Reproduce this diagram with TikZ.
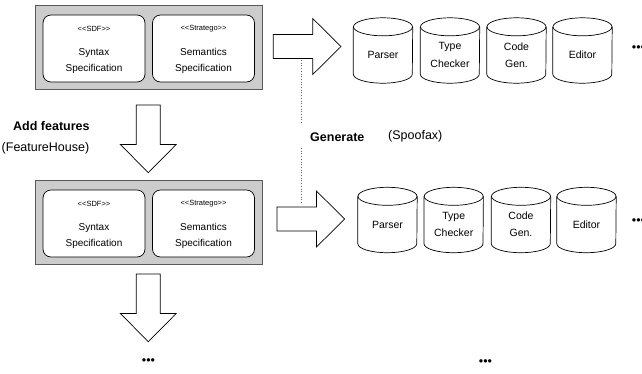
\documentclass[tikz,border=0pt]{standalone}
\usepackage{fontspec}
\setmainfont{Liberation Sans}
\usetikzlibrary{calc}
\tikzset{blockarrow/.pic={\draw[bigarrow] (0,-12) -- (39.4,-12) -- (39.4,-28) -- (67.7,0) -- (39.4,28) -- (39.4,12) -- (0,12) -- cycle;}}
\begin{document}
\begin{tikzpicture}[x=1pt,y=1pt,
 graybox/.style={draw=black!65, line width=1pt, fill=black!20, minimum width=227pt, minimum height=84pt, inner sep=0},
 specbox/.style={draw=black, line width=0.7pt, fill=white, rounded corners=8pt, minimum width=102pt, minimum height=67pt, inner sep=0},
 stereo/.style={font=\fontsize{7.5}{9}\selectfont, inner sep=0},
 spectext/.style={font=\fontsize{10}{16}\selectfont, align=center, inner sep=0},
 cyl/.style={minimum width=59pt, minimum height=56pt, inner sep=0, align=center, font=\fontsize{10.5}{17.3}\selectfont},
 cylline/.style={draw=black, line width=0.7pt},
 bigarrow/.style={draw=black, line width=0.7pt, fill=white},
 lbl/.style={font=\fontsize{12.5}{15}\selectfont, inner sep=0, anchor=west},
 moredots/.style={font=\fontsize{12.5}{15}\selectfont, inner sep=0},
 sepline/.style={draw=black!60, dotted, line width=0.7pt}]
\useasboundingbox (0,0) rectangle (642,-373);

% dotted separator
\coordinate (d1) at (301.3,-60);
\coordinate (d2) at (301.3,-123);
\coordinate (d3) at (301.3,-148);
\coordinate (d4) at (301.3,-203);
\draw[sepline] (d1) -- (d2);
\draw[sepline] (d3) -- (d4);

% top specification block
\node[graybox] (g1) at (148.5,-47) {};
\node[specbox] (s1) at (94,-48.5) {};
\node[specbox] (m1) at (203.5,-48.5) {};
\node[stereo] (s1t) at (94,-29) {<{}<SDF>{}>};
\node[stereo] (m1t) at (203.5,-29) {<{}<Stratego>{}>};
\node[spectext] (s1x) at (94,-61) {Syntax\\Specification};
\node[spectext] (m1x) at (203.5,-61) {Semantics\\Specification};

% bottom specification block
\node[graybox] (g2) at (148.5,-222) {};
\node[specbox] (s2) at (94,-223.5) {};
\node[specbox] (m2) at (203.5,-223.5) {};
\node[stereo] (s2t) at (94,-204) {<{}<SDF>{}>};
\node[stereo] (m2t) at (203.5,-204) {<{}<Stratego>{}>};
\node[spectext] (s2x) at (94,-236) {Syntax\\Specification};
\node[spectext] (m2x) at (203.5,-236) {Semantics\\Specification};

% block arrows
\pic at (273.3,-46.5) {blockarrow};
\pic at (277,-219) {blockarrow};
\pic[rotate=-90] at (148.3,-105) {blockarrow};
\pic[rotate=-90] at (148.3,-274) {blockarrow};

% generated tools, top row
\node[cyl] (a1) at (383,-55) {Parser};
\node[cyl] (a2) at (450,-55) {Type\\Checker};
\node[cyl] (a3) at (516.5,-55) {Code\\Gen.};
\node[cyl] (a4) at (582.5,-55) {Editor};
% bottom row
\node[cyl] (b1) at (387.5,-224.5) {Parser};
\node[cyl] (b2) at (453.7,-224.5) {Type\\Checker};
\node[cyl] (b3) at (521,-224.5) {Code\\Gen.};
\node[cyl] (b4) at (586.5,-224.5) {Editor};
\foreach \n in {a1,a2,a3,a4,b1,b2,b3,b4}{
  \draw[cylline] (\n.north west) -- ($(\n.south west)+(0,9)$) arc[start angle=180,end angle=360,x radius=29.5pt,y radius=9pt] -- (\n.north east);
  \draw[cylline] (\n.north) ellipse[x radius=29.5pt,y radius=9pt];
}

% labels
\node[lbl, font=\fontsize{12.5}{15}\selectfont\bfseries] (add) at (13,-126) {Add features};
\node[lbl] (fh) at (1.5,-148.3) {(FeatureHouse)};
\node[lbl, font=\fontsize{12.5}{15}\selectfont\bfseries] (gen) at (310,-136.7) {Generate};
\node[lbl] (spx) at (388,-136.7) {(Spoofax)};

% continuation dots
\node[moredots, anchor=west] (e1) at (631.7,-48.3) {•••};
\node[moredots, anchor=west] (e2) at (631.7,-221.7) {•••};
\node[moredots] (e3) at (148.5,-362) {•••};
\node[moredots] (e4) at (485.5,-362.7) {•••};
\end{tikzpicture}
\end{document}
